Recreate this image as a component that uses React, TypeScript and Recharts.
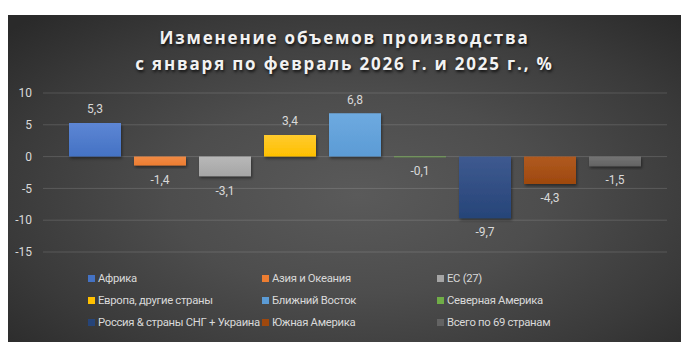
import React from 'react';
import { BarChart, Bar, XAxis, YAxis, CartesianGrid, Legend, LabelList } from 'recharts';

// regions (series) and their change in %
const regions = [
  'Африка',
  'Азия и Океания',
  'ЕС (27)',
  'Европа, другие страны',
  'Ближний Восток',
  'Северная Америка',
  'Россия & страны СНГ + Украина',
  'Южная Америка',
  'Всего по 69 странам',
];
const changes = [5.3, -1.4, -3.1, 3.4, 6.8, -0.1, -9.7, -4.3, -1.5];
const colors = ['#4472C4', '#ED7D31', '#A5A5A5', '#FFC000', '#5B9BD5', '#70AD47', '#264478', '#9E480E', '#636363'];
const topColors = ['#5d86d4', '#f08a45', '#b8b8b8', '#ffcb2e', '#6eaae0', '#7ebb55', '#3e5a90', '#b05a20', '#747474'];
const yTicks = [-15, -10, -5, 0, 5, 10];

const titleLines = ['Изменение объемов производства', 'с января по февраль 2026 г. и 2025 г., %'];

const W = 673;
const H = 327;

const row: { [key: string]: string | number } = { name: '' };
regions.forEach((r, i) => {
  row[r] = changes[i];
});
const chartData = [row];

const fmt = (v: number) => v.toFixed(1).replace('.', ',');

const ValueLabel = (props: any) => {
  const { x, y, width, height, value } = props;
  const top = Math.min(y, y + height);
  const bottom = Math.max(y, y + height);
  const cy = value >= 0 ? top - 14 : bottom + 14;
  return (
    <text x={x + width / 2} y={cy} dy="0.35em" textAnchor="middle" fill="#d9d9d9" fontSize={12} fontFamily="Roboto, sans-serif">
      {fmt(value)}
    </text>
  );
};

const LegendGrid = () => (
  <div
    style={{
      height: 80,
      paddingTop: 15,
      paddingLeft: 80,
      boxSizing: 'border-box',
      display: 'grid',
      gridTemplateColumns: '174px 175px 200px',
      gridAutoRows: '22px',
      fontFamily: 'Roboto, sans-serif',
      fontSize: 11.3,
      letterSpacing: -0.3,
      color: '#d9d9d9',
    }}
  >
    {regions.map((r, i) => (
      <div key={r} style={{ display: 'flex', alignItems: 'center', whiteSpace: 'nowrap' }}>
        <span style={{ width: 7, height: 7, flexShrink: 0, background: colors[i], marginRight: 3, display: 'inline-block' }} />
        {r}
      </div>
    ))}
  </div>
);

export default function App() {
  return (
    <div
      style={{
        position: 'absolute',
        left: 8,
        top: 15,
        width: W,
        height: H,
        background: 'radial-gradient(ellipse 70% 75% at 52% 55%, #5a5a5a 0%, #4d4d4d 40%, #3a3a3a 75%, #2a2a2a 100%)',
      }}
    >
      <div
        style={{
          position: 'absolute',
          left: 0,
          top: 10,
          width: W,
          textAlign: 'center',
          fontFamily: '"Open Sans", sans-serif',
          fontWeight: 700,
          fontSize: 17,
          lineHeight: '26px',
          letterSpacing: 1.8,
          color: '#f2f2f2',
          textShadow: '1px 2px 3px rgba(0,0,0,0.75)',
        }}
      >
        {titleLines.map((t) => (
          <div key={t}>{t}</div>
        ))}
      </div>
      <BarChart
        width={W}
        height={H}
        data={chartData}
        margin={{ top: 78, right: 14, left: 0, bottom: 10 }}
        barCategoryGap={26}
        barGap={13}
        style={{ position: 'absolute', left: 0, top: 0 }}
      >
        <defs>
          {colors.map((c, i) => (
            <linearGradient key={c} id={`grad${i}`} x1="0" y1="0" x2="0" y2="1">
              <stop offset="0%" stopColor={topColors[i]} />
              <stop offset="100%" stopColor={c} />
            </linearGradient>
          ))}
          <filter id="barShadow" x="-10%" y="-10%" width="130%" height="140%">
            <feDropShadow dx="1" dy="2" stdDeviation="1.5" floodColor="#000" floodOpacity="0.45" />
          </filter>
        </defs>
        <CartesianGrid vertical={false} stroke="rgba(255,255,255,0.14)" />
        <XAxis dataKey="name" hide />
        <YAxis
          domain={[-15, 10]}
          ticks={yTicks}
          axisLine={false}
          tickLine={false}
          tickSize={0}
          tickMargin={11}
          width={35}
          tick={{ fill: '#d9d9d9', fontSize: 12, fontFamily: 'Roboto, sans-serif' }}
        />
        <Legend
          verticalAlign="bottom"
          content={<LegendGrid />}
          wrapperStyle={{ left: 0, width: W, height: 80 }}
        />
        {regions.map((r, i) => (
          <Bar key={r} dataKey={r} fill={`url(#grad${i})`} filter="url(#barShadow)" isAnimationActive={false}>
            <LabelList dataKey={r} content={<ValueLabel />} />
          </Bar>
        ))}
      </BarChart>
    </div>
  );
}
